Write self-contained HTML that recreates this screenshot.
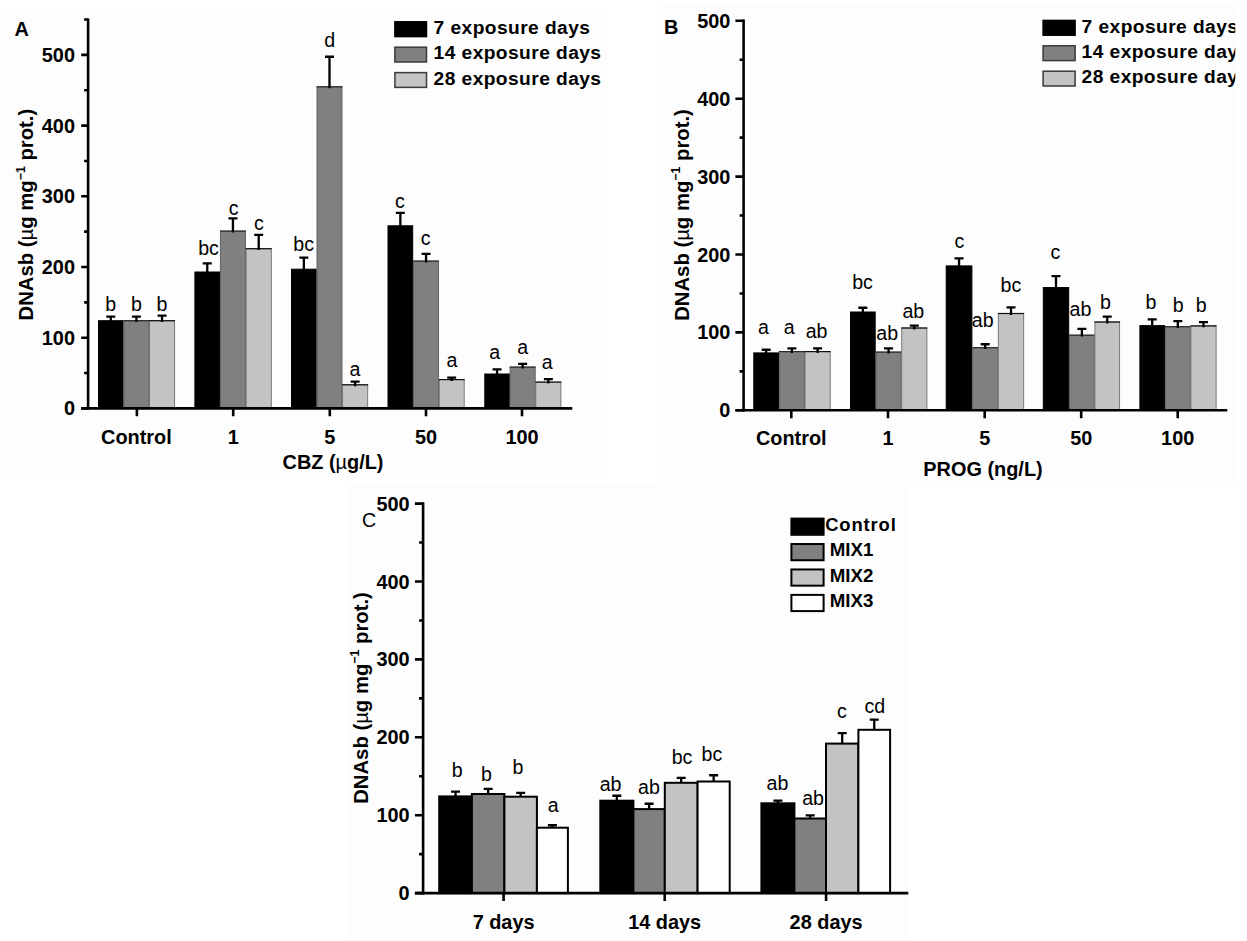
<!DOCTYPE html>
<html><head><meta charset="utf-8"><title>DNAsb figure</title>
<style>
html,body{margin:0;padding:0;background:#fff;}
svg{display:block;}
text{font-family:"Liberation Sans",Arial,Helvetica,sans-serif;fill:#000;}
</style></head>
<body>
<svg width="1247" height="941" viewBox="0 0 1247 941">
<rect x="0" y="10" width="608" height="470" fill="#fdfdfd"/>
<rect x="658" y="4" width="577.5" height="478" fill="#fdfdfd"/>
<rect x="348" y="484" width="561" height="454" fill="#fdfdfd"/>
<rect x="98.50" y="320.70" width="24.60" height="87.70" fill="#000" stroke="#000" stroke-width="1.0"/>
<rect x="123.90" y="320.70" width="25.00" height="87.70" fill="#808080" stroke="#5a5a5a" stroke-width="0.9"/>
<path d="M123.45 320.70H149.35" stroke="#2a2a2a" stroke-width="1.2" fill="none"/>
<rect x="149.50" y="320.70" width="25.10" height="87.70" fill="#c3c3c3" stroke="#6e6e6e" stroke-width="0.9"/>
<path d="M149.05 320.70H175.05" stroke="#111" stroke-width="1.2" fill="none"/>
<rect x="194.90" y="272.00" width="24.70" height="136.40" fill="#000" stroke="#000" stroke-width="1.0"/>
<rect x="220.40" y="231.10" width="25.10" height="177.30" fill="#808080" stroke="#5a5a5a" stroke-width="0.9"/>
<path d="M219.95 231.10H245.95" stroke="#2a2a2a" stroke-width="1.2" fill="none"/>
<rect x="246.10" y="248.70" width="25.20" height="159.70" fill="#c3c3c3" stroke="#6e6e6e" stroke-width="0.9"/>
<path d="M245.65 248.70H271.75" stroke="#111" stroke-width="1.2" fill="none"/>
<rect x="291.50" y="269.20" width="24.70" height="139.20" fill="#000" stroke="#000" stroke-width="1.0"/>
<rect x="317.00" y="86.80" width="25.00" height="321.60" fill="#808080" stroke="#5a5a5a" stroke-width="0.9"/>
<path d="M316.55 86.80H342.45" stroke="#2a2a2a" stroke-width="1.2" fill="none"/>
<rect x="342.60" y="384.80" width="25.10" height="23.60" fill="#c3c3c3" stroke="#6e6e6e" stroke-width="0.9"/>
<path d="M342.15 384.80H368.15" stroke="#111" stroke-width="1.2" fill="none"/>
<rect x="388.00" y="225.80" width="24.70" height="182.60" fill="#000" stroke="#000" stroke-width="1.0"/>
<rect x="413.50" y="261.10" width="25.10" height="147.30" fill="#808080" stroke="#5a5a5a" stroke-width="0.9"/>
<path d="M413.05 261.10H439.05" stroke="#2a2a2a" stroke-width="1.2" fill="none"/>
<rect x="439.20" y="379.60" width="25.00" height="28.80" fill="#c3c3c3" stroke="#6e6e6e" stroke-width="0.9"/>
<path d="M438.75 379.60H464.65" stroke="#111" stroke-width="1.2" fill="none"/>
<rect x="484.80" y="374.00" width="24.50" height="34.40" fill="#000" stroke="#000" stroke-width="1.0"/>
<rect x="510.10" y="367.10" width="25.10" height="41.30" fill="#808080" stroke="#5a5a5a" stroke-width="0.9"/>
<path d="M509.65 367.10H535.65" stroke="#2a2a2a" stroke-width="1.2" fill="none"/>
<rect x="535.80" y="382.10" width="25.10" height="26.30" fill="#c3c3c3" stroke="#6e6e6e" stroke-width="0.9"/>
<path d="M535.35 382.10H561.35" stroke="#111" stroke-width="1.2" fill="none"/>
<path d="M110.80 316.55V322.10M106.30 316.55H115.30" stroke="#000" stroke-width="2.3" fill="none"/>
<path d="M136.40 316.55V322.10M131.90 316.55H140.90" stroke="#000" stroke-width="2.3" fill="none"/>
<path d="M162.05 315.65V322.10M157.55 315.65H166.55" stroke="#000" stroke-width="2.3" fill="none"/>
<path d="M207.25 263.35V273.40M202.75 263.35H211.75" stroke="#000" stroke-width="2.3" fill="none"/>
<path d="M232.95 218.35V232.50M228.45 218.35H237.45" stroke="#000" stroke-width="2.3" fill="none"/>
<path d="M258.70 234.85V250.10M254.20 234.85H263.20" stroke="#000" stroke-width="2.3" fill="none"/>
<path d="M303.85 257.65V270.60M299.35 257.65H308.35" stroke="#000" stroke-width="2.3" fill="none"/>
<path d="M329.50 56.75V88.20M325.00 56.75H334.00" stroke="#000" stroke-width="2.3" fill="none"/>
<path d="M355.15 381.65V386.20M350.65 381.65H359.65" stroke="#000" stroke-width="2.3" fill="none"/>
<path d="M400.35 212.95V227.20M395.85 212.95H404.85" stroke="#000" stroke-width="2.3" fill="none"/>
<path d="M426.05 253.85V262.50M421.55 253.85H430.55" stroke="#000" stroke-width="2.3" fill="none"/>
<path d="M451.70 377.65V381.00M447.20 377.65H456.20" stroke="#000" stroke-width="2.3" fill="none"/>
<path d="M497.05 369.35V375.40M492.55 369.35H501.55" stroke="#000" stroke-width="2.3" fill="none"/>
<path d="M522.65 363.85V368.50M518.15 363.85H527.15" stroke="#000" stroke-width="2.3" fill="none"/>
<path d="M548.35 379.15V383.50M543.85 379.15H552.85" stroke="#000" stroke-width="2.3" fill="none"/>
<text x="110.80" y="311.00" text-anchor="middle" font-size="19.6">b</text>
<text x="136.40" y="311.00" text-anchor="middle" font-size="19.6">b</text>
<text x="162.00" y="311.00" text-anchor="middle" font-size="19.6">b</text>
<text x="208.50" y="255.00" text-anchor="middle" font-size="19.6">bc</text>
<text x="233.70" y="214.60" text-anchor="middle" font-size="19.6">c</text>
<text x="258.90" y="230.20" text-anchor="middle" font-size="19.6">c</text>
<text x="303.60" y="251.00" text-anchor="middle" font-size="19.6">bc</text>
<text x="329.70" y="46.50" text-anchor="middle" font-size="19.6">d</text>
<text x="355.00" y="375.70" text-anchor="middle" font-size="19.6">a</text>
<text x="400.00" y="208.10" text-anchor="middle" font-size="19.6">c</text>
<text x="425.70" y="244.70" text-anchor="middle" font-size="19.6">c</text>
<text x="452.00" y="367.40" text-anchor="middle" font-size="19.6">a</text>
<text x="494.70" y="359.10" text-anchor="middle" font-size="19.6">a</text>
<text x="522.70" y="353.90" text-anchor="middle" font-size="19.6">a</text>
<text x="547.30" y="369.10" text-anchor="middle" font-size="19.6">a</text>
<path d="M81.10 408.40H572.30M136.90 408.40V416.30M233.20 408.40V416.30M329.80 408.40V416.30M426.00 408.40V416.30M522.00 408.40V416.30" stroke="#000" stroke-width="2.6" fill="none"/>
<path d="M88.10 18.40V409.70" stroke="#000" stroke-width="2.6" fill="none"/>
<path d="M81.20 408.40H88.10M84.10 373.05H88.10M81.20 337.70H88.10M84.10 302.35H88.10M81.20 267.00H88.10M84.10 231.65H88.10M81.20 196.30H88.10M84.10 160.95H88.10M81.20 125.60H88.10M84.10 90.25H88.10M81.20 54.90H88.10M84.10 19.55H88.10" stroke="#000" stroke-width="2.6" fill="none"/>
<text x="75.00" y="415.40" text-anchor="end" font-weight="700" font-size="19.9" >0</text>
<text x="75.00" y="344.70" text-anchor="end" font-weight="700" font-size="19.9" >100</text>
<text x="75.00" y="274.00" text-anchor="end" font-weight="700" font-size="19.9" >200</text>
<text x="75.00" y="203.30" text-anchor="end" font-weight="700" font-size="19.9" >300</text>
<text x="75.00" y="132.60" text-anchor="end" font-weight="700" font-size="19.9" >400</text>
<text x="75.00" y="61.90" text-anchor="end" font-weight="700" font-size="19.9" >500</text>
<text x="136.40" y="443.50" text-anchor="middle" font-weight="700" font-size="19.9" >Control</text>
<text x="233.20" y="443.50" text-anchor="middle" font-weight="700" font-size="19.9" >1</text>
<text x="329.80" y="443.50" text-anchor="middle" font-weight="700" font-size="19.9" >5</text>
<text x="426.00" y="443.50" text-anchor="middle" font-weight="700" font-size="19.9" >50</text>
<text x="522.00" y="443.50" text-anchor="middle" font-weight="700" font-size="19.9" >100</text>
<text x="333.0" y="468.8" text-anchor="middle" font-weight="700" font-size="19.9">CBZ (<tspan font-weight="400">µ</tspan>g/L)</text>
<text transform="translate(32.80 214.60) rotate(-90)" text-anchor="middle" font-weight="700" font-size="20.30">DNAsb (<tspan font-weight="400">µ</tspan>g mg<tspan font-size="12.34" dy="-8.2">−1</tspan><tspan dy="8.2"> prot.)</tspan></text>
<text x="14.40" y="35.60" text-anchor="start" font-weight="700" font-size="19.9" >A</text>
<rect x="394.9" y="21.80" width="31.6" height="14.8" fill="#000" stroke="#000" stroke-width="1.5"/>
<text x="433.60" y="34.10" text-anchor="start" font-weight="700" font-size="19.2" textLength="156.3" lengthAdjust="spacing">7 exposure days</text>
<rect x="394.9" y="47.20" width="31.6" height="14.8" fill="#808080" stroke="#3a3a3a" stroke-width="1.5"/>
<text x="433.60" y="59.00" text-anchor="start" font-weight="700" font-size="19.2" textLength="167.4" lengthAdjust="spacing">14 exposure days</text>
<rect x="394.9" y="72.60" width="31.6" height="14.8" fill="#c3c3c3" stroke="#3a3a3a" stroke-width="1.5"/>
<text x="433.60" y="84.60" text-anchor="start" font-weight="700" font-size="19.2" textLength="167.4" lengthAdjust="spacing">28 exposure days</text>
<rect x="753.80" y="352.90" width="24.70" height="57.40" fill="#000" stroke="#000" stroke-width="1.0"/>
<rect x="779.30" y="351.60" width="25.10" height="58.70" fill="#808080" stroke="#5a5a5a" stroke-width="0.9"/>
<path d="M778.85 351.60H804.85" stroke="#2a2a2a" stroke-width="1.2" fill="none"/>
<rect x="805.00" y="351.60" width="25.20" height="58.70" fill="#c3c3c3" stroke="#6e6e6e" stroke-width="0.9"/>
<path d="M804.55 351.60H830.65" stroke="#111" stroke-width="1.2" fill="none"/>
<rect x="850.50" y="312.00" width="24.70" height="98.30" fill="#000" stroke="#000" stroke-width="1.0"/>
<rect x="876.00" y="352.10" width="25.10" height="58.20" fill="#808080" stroke="#5a5a5a" stroke-width="0.9"/>
<path d="M875.55 352.10H901.55" stroke="#2a2a2a" stroke-width="1.2" fill="none"/>
<rect x="901.70" y="328.00" width="25.20" height="82.30" fill="#c3c3c3" stroke="#6e6e6e" stroke-width="0.9"/>
<path d="M901.25 328.00H927.35" stroke="#111" stroke-width="1.2" fill="none"/>
<rect x="946.20" y="265.90" width="25.70" height="144.40" fill="#000" stroke="#000" stroke-width="1.0"/>
<rect x="972.70" y="347.70" width="25.00" height="62.60" fill="#808080" stroke="#5a5a5a" stroke-width="0.9"/>
<path d="M972.25 347.70H998.15" stroke="#2a2a2a" stroke-width="1.2" fill="none"/>
<rect x="998.30" y="313.50" width="25.40" height="96.80" fill="#c3c3c3" stroke="#6e6e6e" stroke-width="0.9"/>
<path d="M997.85 313.50H1024.15" stroke="#111" stroke-width="1.2" fill="none"/>
<rect x="1043.30" y="287.50" width="25.40" height="122.80" fill="#000" stroke="#000" stroke-width="1.0"/>
<rect x="1069.50" y="335.20" width="24.80" height="75.10" fill="#808080" stroke="#5a5a5a" stroke-width="0.9"/>
<path d="M1069.05 335.20H1094.75" stroke="#2a2a2a" stroke-width="1.2" fill="none"/>
<rect x="1094.90" y="322.00" width="24.70" height="88.30" fill="#c3c3c3" stroke="#6e6e6e" stroke-width="0.9"/>
<path d="M1094.45 322.00H1120.05" stroke="#111" stroke-width="1.2" fill="none"/>
<rect x="1139.90" y="325.60" width="24.60" height="84.70" fill="#000" stroke="#000" stroke-width="1.0"/>
<rect x="1165.30" y="326.70" width="25.00" height="83.60" fill="#808080" stroke="#5a5a5a" stroke-width="0.9"/>
<path d="M1164.85 326.70H1190.75" stroke="#2a2a2a" stroke-width="1.2" fill="none"/>
<rect x="1190.90" y="325.90" width="25.20" height="84.40" fill="#c3c3c3" stroke="#6e6e6e" stroke-width="0.9"/>
<path d="M1190.45 325.90H1216.55" stroke="#111" stroke-width="1.2" fill="none"/>
<path d="M766.15 349.75V354.30M761.65 349.75H770.65" stroke="#000" stroke-width="2.3" fill="none"/>
<path d="M791.85 348.45V353.00M787.35 348.45H796.35" stroke="#000" stroke-width="2.3" fill="none"/>
<path d="M817.60 348.45V353.00M813.10 348.45H822.10" stroke="#000" stroke-width="2.3" fill="none"/>
<path d="M862.85 307.75V313.40M858.35 307.75H867.35" stroke="#000" stroke-width="2.3" fill="none"/>
<path d="M888.55 348.45V353.50M884.05 348.45H893.05" stroke="#000" stroke-width="2.3" fill="none"/>
<path d="M914.30 325.65V329.40M909.80 325.65H918.80" stroke="#000" stroke-width="2.3" fill="none"/>
<path d="M959.05 258.45V267.30M954.55 258.45H963.55" stroke="#000" stroke-width="2.3" fill="none"/>
<path d="M985.20 344.25V349.10M980.70 344.25H989.70" stroke="#000" stroke-width="2.3" fill="none"/>
<path d="M1011.00 307.35V314.90M1006.50 307.35H1015.50" stroke="#000" stroke-width="2.3" fill="none"/>
<path d="M1056.00 276.05V288.90M1051.50 276.05H1060.50" stroke="#000" stroke-width="2.3" fill="none"/>
<path d="M1081.90 328.95V336.60M1077.40 328.95H1086.40" stroke="#000" stroke-width="2.3" fill="none"/>
<path d="M1107.25 316.65V323.40M1102.75 316.65H1111.75" stroke="#000" stroke-width="2.3" fill="none"/>
<path d="M1152.20 319.45V327.00M1147.70 319.45H1156.70" stroke="#000" stroke-width="2.3" fill="none"/>
<path d="M1177.80 321.05V328.10M1173.30 321.05H1182.30" stroke="#000" stroke-width="2.3" fill="none"/>
<path d="M1203.50 322.15V327.30M1199.00 322.15H1208.00" stroke="#000" stroke-width="2.3" fill="none"/>
<text x="763.40" y="334.40" text-anchor="middle" font-size="19.6">a</text>
<text x="789.10" y="334.40" text-anchor="middle" font-size="19.6">a</text>
<text x="816.60" y="337.60" text-anchor="middle" font-size="19.6">ab</text>
<text x="862.50" y="288.80" text-anchor="middle" font-size="19.6">bc</text>
<text x="887.20" y="339.50" text-anchor="middle" font-size="19.6">ab</text>
<text x="913.30" y="317.60" text-anchor="middle" font-size="19.6">ab</text>
<text x="959.50" y="247.70" text-anchor="middle" font-size="19.6">c</text>
<text x="982.70" y="327.20" text-anchor="middle" font-size="19.6">ab</text>
<text x="1010.90" y="292.20" text-anchor="middle" font-size="19.6">bc</text>
<text x="1055.30" y="259.40" text-anchor="middle" font-size="19.6">c</text>
<text x="1080.40" y="316.30" text-anchor="middle" font-size="19.6">ab</text>
<text x="1105.50" y="309.40" text-anchor="middle" font-size="19.6">b</text>
<text x="1151.00" y="309.20" text-anchor="middle" font-size="19.6">b</text>
<text x="1178.10" y="312.30" text-anchor="middle" font-size="19.6">b</text>
<text x="1201.20" y="312.30" text-anchor="middle" font-size="19.6">b</text>
<path d="M735.40 410.30H1227.30M791.30 410.30V418.20M888.00 410.30V418.20M984.70 410.30V418.20M1081.20 410.30V418.20M1177.70 410.30V418.20" stroke="#000" stroke-width="2.6" fill="none"/>
<path d="M743.60 19.50V411.60" stroke="#000" stroke-width="2.6" fill="none"/>
<path d="M735.40 410.30H743.60M739.60 371.35H743.60M735.40 332.40H743.60M739.60 293.45H743.60M735.40 254.50H743.60M739.60 215.55H743.60M735.40 176.60H743.60M739.60 137.65H743.60M735.40 98.70H743.60M739.60 59.75H743.60M735.40 20.80H743.60" stroke="#000" stroke-width="2.6" fill="none"/>
<text x="730.40" y="417.30" text-anchor="end" font-weight="700" font-size="19.9" >0</text>
<text x="730.40" y="339.40" text-anchor="end" font-weight="700" font-size="19.9" >100</text>
<text x="730.40" y="261.50" text-anchor="end" font-weight="700" font-size="19.9" >200</text>
<text x="730.40" y="183.60" text-anchor="end" font-weight="700" font-size="19.9" >300</text>
<text x="730.40" y="105.70" text-anchor="end" font-weight="700" font-size="19.9" >400</text>
<text x="730.40" y="27.80" text-anchor="end" font-weight="700" font-size="19.9" >500</text>
<text x="791.30" y="445.00" text-anchor="middle" font-weight="700" font-size="19.9" >Control</text>
<text x="888.00" y="445.00" text-anchor="middle" font-weight="700" font-size="19.9" >1</text>
<text x="984.70" y="445.00" text-anchor="middle" font-weight="700" font-size="19.9" >5</text>
<text x="1081.20" y="445.00" text-anchor="middle" font-weight="700" font-size="19.9" >50</text>
<text x="1177.70" y="445.00" text-anchor="middle" font-weight="700" font-size="19.9" >100</text>
<text x="983.0" y="476.2" text-anchor="middle" font-weight="700" font-size="19.9">PROG (ng/L)</text>
<text transform="translate(688.50 215.00) rotate(-90)" text-anchor="middle" font-weight="700" font-size="20.30">DNAsb (<tspan font-weight="400">µ</tspan>g mg<tspan font-size="12.34" dy="-8.2">−1</tspan><tspan dy="8.2"> prot.)</tspan></text>
<text x="664.10" y="34.20" text-anchor="start" font-weight="700" font-size="19.9" >B</text>
<clipPath id="cb"><rect x="1030" y="0" width="205.3" height="100"/></clipPath><g clip-path="url(#cb)">
<rect x="1043.1" y="20.40" width="32.0" height="14.8" fill="#000" stroke="#000" stroke-width="1.5"/>
<text x="1081.60" y="32.70" text-anchor="start" font-weight="700" font-size="19.2" textLength="156.3" lengthAdjust="spacing">7 exposure days</text>
<rect x="1043.1" y="45.80" width="32.0" height="14.8" fill="#808080" stroke="#3a3a3a" stroke-width="1.5"/>
<text x="1081.60" y="57.90" text-anchor="start" font-weight="700" font-size="19.2" textLength="167.4" lengthAdjust="spacing">14 exposure days</text>
<rect x="1043.1" y="71.20" width="32.0" height="14.8" fill="#c3c3c3" stroke="#3a3a3a" stroke-width="1.5"/>
<text x="1081.60" y="83.20" text-anchor="start" font-weight="700" font-size="19.2" textLength="167.4" lengthAdjust="spacing">28 exposure days</text>
</g>
<rect x="439.20" y="796.40" width="32.70" height="96.70" fill="#000" stroke="#000" stroke-width="2.0"/>
<rect x="471.90" y="794.00" width="32.50" height="99.10" fill="#808080" stroke="#000" stroke-width="2.0"/>
<rect x="504.40" y="796.70" width="32.50" height="96.40" fill="#c3c3c3" stroke="#000" stroke-width="2.0"/>
<rect x="536.90" y="827.70" width="31.00" height="65.40" fill="#fff" stroke="#000" stroke-width="2.0"/>
<rect x="600.30" y="800.70" width="33.10" height="92.40" fill="#000" stroke="#000" stroke-width="2.0"/>
<rect x="633.40" y="809.10" width="31.40" height="84.00" fill="#808080" stroke="#000" stroke-width="2.0"/>
<rect x="664.80" y="782.80" width="32.80" height="110.30" fill="#c3c3c3" stroke="#000" stroke-width="2.0"/>
<rect x="697.60" y="781.50" width="32.10" height="111.60" fill="#fff" stroke="#000" stroke-width="2.0"/>
<rect x="761.40" y="803.30" width="33.00" height="89.80" fill="#000" stroke="#000" stroke-width="2.0"/>
<rect x="794.40" y="818.50" width="31.60" height="74.60" fill="#808080" stroke="#000" stroke-width="2.0"/>
<rect x="826.00" y="743.60" width="32.40" height="149.50" fill="#c3c3c3" stroke="#000" stroke-width="2.0"/>
<rect x="858.40" y="729.80" width="31.70" height="163.30" fill="#fff" stroke="#000" stroke-width="2.0"/>
<path d="M455.55 791.55V796.40M451.05 791.55H460.05" stroke="#000" stroke-width="2.3" fill="none"/>
<path d="M488.15 788.85V794.00M483.65 788.85H492.65" stroke="#000" stroke-width="2.3" fill="none"/>
<path d="M520.65 792.85V796.70M516.15 792.85H525.15" stroke="#000" stroke-width="2.3" fill="none"/>
<path d="M552.40 825.25V827.70M547.90 825.25H556.90" stroke="#000" stroke-width="2.3" fill="none"/>
<path d="M616.85 795.75V800.70M612.35 795.75H621.35" stroke="#000" stroke-width="2.3" fill="none"/>
<path d="M649.10 803.75V809.10M644.60 803.75H653.60" stroke="#000" stroke-width="2.3" fill="none"/>
<path d="M681.20 777.95V782.80M676.70 777.95H685.70" stroke="#000" stroke-width="2.3" fill="none"/>
<path d="M713.65 775.25V781.50M709.15 775.25H718.15" stroke="#000" stroke-width="2.3" fill="none"/>
<path d="M777.90 800.65V803.30M773.40 800.65H782.40" stroke="#000" stroke-width="2.3" fill="none"/>
<path d="M810.20 815.45V818.50M805.70 815.45H814.70" stroke="#000" stroke-width="2.3" fill="none"/>
<path d="M842.20 733.15V743.60M837.70 733.15H846.70" stroke="#000" stroke-width="2.3" fill="none"/>
<path d="M874.25 719.55V729.80M869.75 719.55H878.75" stroke="#000" stroke-width="2.3" fill="none"/>
<text x="457.10" y="776.50" text-anchor="middle" font-size="19.6">b</text>
<text x="486.40" y="780.50" text-anchor="middle" font-size="19.6">b</text>
<text x="518.00" y="774.40" text-anchor="middle" font-size="19.6">b</text>
<text x="553.30" y="811.70" text-anchor="middle" font-size="19.6">a</text>
<text x="610.60" y="790.90" text-anchor="middle" font-size="19.6">ab</text>
<text x="649.00" y="794.10" text-anchor="middle" font-size="19.6">ab</text>
<text x="682.00" y="763.60" text-anchor="middle" font-size="19.6">bc</text>
<text x="711.90" y="761.20" text-anchor="middle" font-size="19.6">bc</text>
<text x="777.50" y="789.90" text-anchor="middle" font-size="19.6">ab</text>
<text x="813.10" y="805.00" text-anchor="middle" font-size="19.6">ab</text>
<text x="841.90" y="717.60" text-anchor="middle" font-size="19.6">c</text>
<text x="874.80" y="712.50" text-anchor="middle" font-size="19.6">cd</text>
<path d="M414.90 893.10H908.30M503.60 893.10V901.00M664.70 893.10V901.00M826.10 893.10V901.00" stroke="#000" stroke-width="2.6" fill="none"/>
<path d="M423.10 502.30V894.40" stroke="#000" stroke-width="2.6" fill="none"/>
<path d="M414.90 893.10H423.10M419.10 854.15H423.10M414.90 815.20H423.10M419.10 776.25H423.10M414.90 737.30H423.10M419.10 698.35H423.10M414.90 659.40H423.10M419.10 620.45H423.10M414.90 581.50H423.10M419.10 542.55H423.10M414.90 503.60H423.10" stroke="#000" stroke-width="2.6" fill="none"/>
<text x="409.60" y="900.10" text-anchor="end" font-weight="700" font-size="19.9" >0</text>
<text x="409.60" y="822.20" text-anchor="end" font-weight="700" font-size="19.9" >100</text>
<text x="409.60" y="744.30" text-anchor="end" font-weight="700" font-size="19.9" >200</text>
<text x="409.60" y="666.40" text-anchor="end" font-weight="700" font-size="19.9" >300</text>
<text x="409.60" y="588.50" text-anchor="end" font-weight="700" font-size="19.9" >400</text>
<text x="409.60" y="510.60" text-anchor="end" font-weight="700" font-size="19.9" >500</text>
<text x="503.60" y="928.50" text-anchor="middle" font-weight="700" font-size="19.9" >7 days</text>
<text x="664.70" y="928.50" text-anchor="middle" font-weight="700" font-size="19.9" >14 days</text>
<text x="826.10" y="928.50" text-anchor="middle" font-weight="700" font-size="19.9" >28 days</text>
<text transform="translate(367.50 698.00) rotate(-90)" text-anchor="middle" font-weight="700" font-size="20.30">DNAsb (<tspan font-weight="400">µ</tspan>g mg<tspan font-size="12.34" dy="-8.2">−1</tspan><tspan dy="8.2"> prot.)</tspan></text>
<text x="361.9" y="527.4" font-size="19.6">C</text>
<rect x="791.4" y="518.60" width="32.2" height="16.2" fill="#000" stroke="#000" stroke-width="2"/>
<text x="825.20" y="531.00" text-anchor="start" font-weight="700" font-size="18.4" textLength="70.6" lengthAdjust="spacing">Control</text>
<rect x="791.4" y="544.03" width="32.2" height="16.2" fill="#808080" stroke="#000" stroke-width="2"/>
<text x="829.80" y="556.45" text-anchor="start" font-weight="700" font-size="18.7" >MIX1</text>
<rect x="791.4" y="569.46" width="32.2" height="16.2" fill="#c3c3c3" stroke="#000" stroke-width="2"/>
<text x="829.80" y="581.90" text-anchor="start" font-weight="700" font-size="18.7" >MIX2</text>
<rect x="791.4" y="594.89" width="32.2" height="16.2" fill="#fff" stroke="#000" stroke-width="2"/>
<text x="829.80" y="607.35" text-anchor="start" font-weight="700" font-size="18.7" >MIX3</text>
</svg>
</body></html>
